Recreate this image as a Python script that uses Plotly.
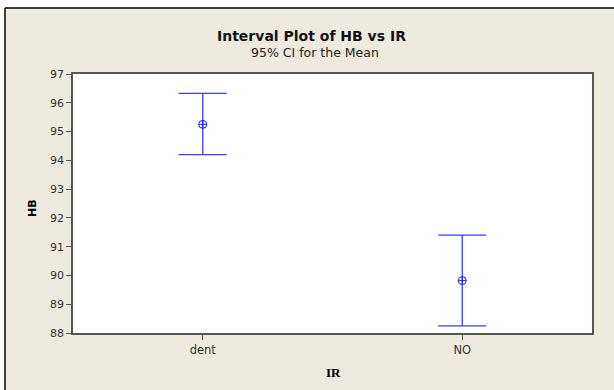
import plotly.graph_objects as go

categories = ["dent", "NO"]
means = [95.25, 89.82]
upper = [96.33, 91.40]
lower = [94.20, 88.25]
y_ticks = [88, 89, 90, 91, 92, 93, 94, 95, 96, 97]

W, H = 614, 390
L, R, T, B = 73, 22, 74, 57
pw, ph = W - L - R, H - T - B

def px(x):
    return (x - L) / pw

def py(y):
    return (H - B - y) / ph

err_plus = [u - m for u, m in zip(upper, means)]
err_minus = [m - l for m, l in zip(means, lower)]

fig = go.Figure()
fig.add_trace(go.Scatter(
    x=categories, y=means, mode="markers",
    marker=dict(symbol="circle-cross-open", size=8, color="#1a1aff", line=dict(width=1, color="#1a1aff")),
    error_y=dict(type="data", symmetric=False, array=err_plus, arrayminus=err_minus,
                 color="#3c3cff", thickness=1.3, width=24),
    showlegend=False,
))

beige = "#EEEAE0"
fig.update_layout(
    width=W, height=H,
    margin=dict(l=L, r=R, t=T, b=B),
    paper_bgcolor=beige, plot_bgcolor="white",
    font=dict(family="DejaVu Sans", size=11, color="#333"),
    xaxis=dict(type="category", range=[-0.5, 1.5], showgrid=False, zeroline=False,
               showline=True, mirror=True, linecolor="#555", linewidth=1.5,
               ticks="outside", ticklen=5, tickcolor="#555", tickfont=dict(size=11.5, color="#333")),
    yaxis=dict(range=[88, 97], tickvals=y_ticks, showgrid=False, zeroline=False,
               showline=True, mirror=True, linecolor="#555", linewidth=1.5,
               ticks="outside", ticklen=5, tickcolor="#555", tickfont=dict(size=11, color="#333")),
    shapes=[
        dict(type="rect", xref="paper", yref="paper", x0=px(0), x1=px(W), y0=py(0), y1=py(8),
             fillcolor="white", line=dict(width=0), layer="above"),
        dict(type="rect", xref="paper", yref="paper", x0=px(0), x1=px(5), y0=py(H), y1=py(0),
             fillcolor="white", line=dict(width=0), layer="above"),
        dict(type="line", xref="paper", yref="paper", x0=px(5), x1=px(W), y0=py(8), y1=py(8),
             line=dict(color="black", width=1.5)),
        dict(type="line", xref="paper", yref="paper", x0=px(5), x1=px(5), y0=py(8), y1=py(H),
             line=dict(color="black", width=1.5)),
    ],
    annotations=[
        dict(text="<b>Interval Plot of HB vs IR</b>", xref="paper", yref="paper", x=px(311), y=py(36),
             showarrow=False, font=dict(family="DejaVu Sans", size=14, color="#111"),
             xanchor="center", yanchor="middle"),
        dict(text="95% CI for the Mean", xref="paper", yref="paper", x=px(315), y=py(53),
             showarrow=False, font=dict(family="DejaVu Sans", size=12.5, color="#222"),
             xanchor="center", yanchor="middle"),
        dict(text="<b>IR</b>", xref="paper", yref="paper", x=px(333), y=py(372),
             showarrow=False, font=dict(family="Liberation Serif", size=13, color="black"),
             xanchor="center", yanchor="middle"),
        dict(text="<b>HB</b>", xref="paper", yref="paper", x=px(32), y=py(208),
             showarrow=False, textangle=-90, font=dict(family="DejaVu Sans", size=11, color="black"),
             xanchor="center", yanchor="middle"),
    ],
)

fig.write_html("out.html")
